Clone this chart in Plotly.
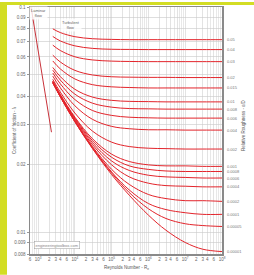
import math
import plotly.graph_objects as go

# Reynolds numbers at which the turbulent curves were read
re_pts = [2500, 4000, 1e4, 3e4, 1e5, 3e5, 1e6, 3e6, 1e7, 3e7, 1e8]

# friction factor read for each relative roughness
f_05 = [0.0800, 0.0770, 0.0738, 0.0723, 0.0718, 0.0716, 0.0716, 0.0716, 0.0716, 0.0716, 0.0716]
f_04 = [0.0740, 0.0707, 0.0672, 0.0655, 0.0649, 0.0648, 0.0647, 0.0647, 0.0647, 0.0647, 0.0647]
f_03 = [0.0677, 0.0641, 0.0601, 0.0582, 0.0575, 0.0573, 0.0572, 0.0572, 0.0572, 0.0572, 0.0572]
f_02 = [0.0611, 0.0570, 0.0523, 0.0499, 0.0490, 0.0488, 0.0487, 0.0487, 0.0486, 0.0486, 0.0486]
f_015 = [0.0576, 0.0531, 0.0479, 0.0452, 0.0442, 0.0439, 0.0437, 0.0437, 0.0437, 0.0437, 0.0437]
f_01 = [0.0539, 0.0491, 0.0431, 0.0398, 0.0385, 0.0381, 0.0380, 0.0379, 0.0379, 0.0379, 0.0379]
f_008 = [0.0524, 0.0474, 0.0410, 0.0374, 0.0359, 0.0354, 0.0353, 0.0352, 0.0352, 0.0352, 0.0352]
f_006 = [0.0509, 0.0456, 0.0388, 0.0347, 0.0330, 0.0324, 0.0322, 0.0321, 0.0321, 0.0321, 0.0321]
f_004 = [0.0493, 0.0438, 0.0364, 0.0317, 0.0295, 0.0288, 0.0285, 0.0285, 0.0284, 0.0284, 0.0284]
f_002 = [0.0477, 0.0419, 0.0338, 0.0281, 0.0251, 0.0240, 0.0236, 0.0235, 0.0234, 0.0234, 0.0234]
f_001 = [0.0469, 0.0409, 0.0324, 0.0260, 0.0222, 0.0206, 0.0199, 0.0197, 0.0197, 0.0196, 0.0196]
f_0008 = [0.0467, 0.0407, 0.0321, 0.0255, 0.0215, 0.0197, 0.0190, 0.0187, 0.0186, 0.0186, 0.0186]
f_0006 = [0.0466, 0.0405, 0.0318, 0.0250, 0.0207, 0.0188, 0.0179, 0.0176, 0.0175, 0.0174, 0.0174]
f_0004 = [0.0464, 0.0403, 0.0315, 0.0245, 0.0199, 0.0176, 0.0165, 0.0161, 0.0160, 0.0159, 0.0159]
f_0002 = [0.0462, 0.0401, 0.0312, 0.0240, 0.0190, 0.0163, 0.0147, 0.0141, 0.0138, 0.0138, 0.0137]
f_0001 = [0.0461, 0.0400, 0.0310, 0.0238, 0.0185, 0.0154, 0.0134, 0.0126, 0.0122, 0.0120, 0.0120]
f_00005 = [0.0461, 0.0400, 0.0309, 0.0236, 0.0183, 0.0150, 0.0127, 0.0115, 0.0109, 0.0107, 0.0106]
f_00001 = [0.0460, 0.0399, 0.0309, 0.0235, 0.0180, 0.0146, 0.0119, 0.0102, 0.0090, 0.0084, 0.0082]

roughness_labels = ["0.05", "0.04", "0.03", "0.02", "0.015", "0.01", "0.008", "0.006",
                    "0.004", "0.002", "0.001", "0.0008", "0.0006", "0.0004", "0.0002",
                    "0.0001", "0.00005", "0.00001"]
roughness_curves = [f_05, f_04, f_03, f_02, f_015, f_01, f_008, f_006, f_004, f_002,
                    f_001, f_0008, f_0006, f_0004, f_0002, f_0001, f_00005, f_00001]

# laminar line
lam_re = [640, 2300]
lam_f = [0.1, 0.0278]

# critical zone
crit_re = [2000, 4000]

y_ticks = [0.1, 0.09, 0.08, 0.07, 0.06, 0.05, 0.04, 0.03, 0.02, 0.01, 0.009, 0.008]
y_ticktext = ["0.1", "0.09", "0.08", "0.07", "0.06", "0.05", "0.04", "0.03", "0.02", "0.01", "0.009", "0.008"]

x_min, x_max = 600, 1e8
y_min, y_max = 0.008, 0.1

# x ticks: labels on 1,2,3,4,6 of each decade, grid on every multiple
x_tickvals, x_ticktext, x_minor = [], [], []
for d in range(2, 9):
    for m in range(1, 10):
        v = m * 10 ** d
        if x_min <= v <= x_max:
            if m == 1:
                x_tickvals.append(v)
                x_ticktext.append(f"10<sup>{d}</sup>")
            elif m in (2, 3, 4, 6):
                x_tickvals.append(v)
                x_ticktext.append(str(m))
            else:
                x_minor.append(v)

RED = "#e3242b"
fig = go.Figure()

for lab, fv in zip(roughness_labels, roughness_curves):
    fig.add_trace(go.Scatter(x=re_pts, y=fv, mode="lines", line=dict(color=RED, width=1, shape="spline"),
                             showlegend=False, hoverinfo="skip"))
    fig.add_annotation(x=math.log10(re_pts[-1]), y=math.log10(fv[-1]), xref="x", yref="y", text=lab,
                       showarrow=False, xanchor="left", xshift=3, font=dict(size=4, color="#777"))

fig.add_trace(go.Scatter(x=lam_re, y=lam_f, mode="lines", line=dict(color="#c8323a", width=1),
                         showlegend=False, hoverinfo="skip"))

W, H = 254, 275
ML, MR, MT, MB = 30, 32, 5, 21
pw, ph = W - ML - MR, H - MT - MB

shapes = [
    dict(type="rect", xref="x", yref="paper", x0=math.log10(crit_re[0]), x1=math.log10(crit_re[1]),
         y0=0, y1=1, fillcolor="rgba(150,150,150,0.25)", line=dict(width=0), layer="below"),
    dict(type="rect", xref="paper", yref="paper", x0=-ML / pw, x1=-(ML - 7) / pw,
         y0=-MB / ph, y1=1 + MT / ph, fillcolor="#d3dd24", line=dict(width=0)),
    dict(type="rect", xref="paper", yref="paper", x0=-ML / pw, x1=1 + MR / pw,
         y0=1 + (MT - 3) / ph, y1=1 + MT / ph, fillcolor="#d3dd24", line=dict(width=0)),
]

annos = [
    dict(x=math.log10(1000), y=math.log10(0.094), xref="x", yref="y", text="Laminar<br>flow", showarrow=False,
         font=dict(size=4, color="#666"), bgcolor="rgba(255,255,255,0.8)"),
    dict(x=math.log10(8000), y=math.log10(0.083), xref="x", yref="y", text="Turbulent<br>flow", showarrow=False,
         font=dict(size=4, color="#666"), bgcolor="rgba(255,255,255,0.8)"),
    dict(x=0.02, y=0.02, xref="paper", yref="paper", text="engineeringtoolbox.com", showarrow=False,
         xanchor="left", yanchor="bottom", font=dict(size=4, color="#888"), bgcolor="white",
         bordercolor="#999", borderwidth=0.5, borderpad=1),
    dict(x=0.5, y=-14 / ph, xref="paper", yref="paper", text="Reynolds Number - R<sub>e</sub>", showarrow=False,
         font=dict(size=4.5, color="#555"), yanchor="middle"),
    dict(x=-(ML - 10) / pw, y=0.5, xref="paper", yref="paper", text="Coefficient of friction - λ",
         showarrow=False, textangle=-90, font=dict(size=4.5, color="#555")),
    dict(x=1 + (MR - 6) / pw, y=0.52, xref="paper", yref="paper", text="Relative Roughness - ε/D",
         showarrow=False, textangle=-90, font=dict(size=4.5, color="#555")),
]
for a in annos:
    fig.add_annotation(**a)

fig.update_layout(
    width=W, height=H, margin=dict(l=ML, r=MR, t=MT, b=MB),
    paper_bgcolor="white", plot_bgcolor="white",
    font=dict(family="Liberation Sans, Arial, sans-serif", size=4.5, color="#666"),
    shapes=shapes, showlegend=False, hovermode=False,
)
fig.update_xaxes(type="log", range=[math.log10(x_min), math.log10(x_max)], tickvals=x_tickvals,
                 ticktext=x_ticktext, showgrid=True, gridcolor="#d0d0d0", gridwidth=0.6,
                 minor=dict(tickvals=x_minor, showgrid=True, gridcolor="#d8d8d8", gridwidth=0.6, ticks=""),
                 showline=True, linecolor="#8a8a8a", linewidth=1.5, mirror=True, ticks="",
                 tickfont=dict(size=4.5, color="#666"), zeroline=False, tickangle=0)
fig.update_yaxes(type="log", range=[math.log10(y_min), math.log10(y_max)], tickvals=y_ticks,
                 ticktext=y_ticktext, showgrid=True, gridcolor="#c8c8c8", gridwidth=0.6,
                 showline=True, linecolor="#8a8a8a", linewidth=1.5, mirror=True, ticks="outside",
                 ticklen=2, tickcolor="#999", tickfont=dict(size=4.5, color="#666"), zeroline=False)

fig.write_html("out.html", config={"displayModeBar": False, "staticPlot": True},
               post_script="document.body.style.margin='0';document.body.style.overflow='hidden';")
